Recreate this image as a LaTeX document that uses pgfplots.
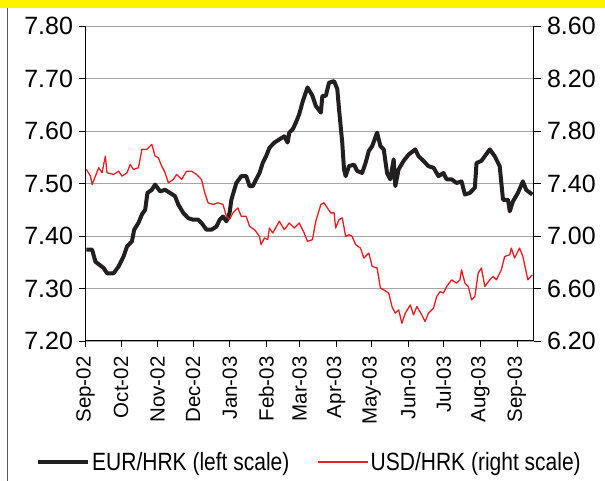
\documentclass[border=0pt]{standalone}
\usepackage{pgfplots}
\pgfplotsset{compat=1.18}
\usepackage{pgfplotstable}
\usepackage{fontspec}
\setmainfont{Liberation Sans}
\newfontfamily\legendfont[FakeStretch=0.84]{Liberation Sans}

\definecolor{eurblack}{HTML}{231F20}
\definecolor{usdred}{HTML}{ED1C24}
\definecolor{gridgray}{HTML}{A6A6A6}
\definecolor{banner}{HTML}{FFF200}

% day 0 = 1 Sep 2002
\pgfplotstableread{
day val
0.8 7.374
5.6 7.374
8.4 7.351
15.4 7.339
18.2 7.329
23.8 7.329
28.0 7.342
32.2 7.361
35.1 7.380
39.3 7.390
41.2 7.412
44.8 7.425
47.7 7.441
50.5 7.450
52.4 7.482
56.1 7.488
58.9 7.498
63.1 7.485
67.3 7.488
71.5 7.482
75.7 7.476
78.5 7.460
82.7 7.444
86.9 7.434
91.1 7.431
95.3 7.431
98.1 7.425
102.3 7.412
106.6 7.412
110.8 7.418
113.5 7.431
116.3 7.437
119.2 7.428
121.9 7.444
123.4 7.469
127.6 7.501
131.8 7.514
136.0 7.514
138.8 7.495
141.5 7.495
144.4 7.508
147.2 7.520
149.9 7.539
152.8 7.552
155.6 7.568
159.8 7.578
164.0 7.584
168.2 7.590
171.0 7.578
172.4 7.597
175.2 7.603
178.0 7.616
180.8 7.632
183.6 7.655
187.8 7.683
192.0 7.667
194.8 7.648
199.1 7.635
200.4 7.667
203.3 7.667
206.0 7.692
210.3 7.695
213.0 7.680
214.5 7.641
217.2 7.578
218.7 7.527
220.1 7.514
222.9 7.533
227.1 7.536
229.8 7.524
234.0 7.520
236.9 7.539
239.7 7.562
242.5 7.571
246.7 7.597
249.5 7.571
252.3 7.565
255.1 7.520
257.9 7.508
260.7 7.546
262.1 7.495
264.9 7.527
269.1 7.543
273.3 7.555
279.0 7.565
281.7 7.552
285.9 7.543
290.1 7.533
294.4 7.530
298.6 7.514
302.8 7.520
305.5 7.508
309.7 7.508
313.9 7.501
318.1 7.504
321.0 7.479
325.2 7.482
329.4 7.492
330.8 7.539
334.9 7.543
337.8 7.552
342.0 7.565
346.2 7.552
350.4 7.533
351.8 7.501
353.2 7.469
357.4 7.469
358.9 7.447
361.6 7.466
365.8 7.482
370.0 7.504
372.8 7.488
378.0 7.479
}\eurhrk

\pgfplotstableread{
day val
0.8 7.507
4.2 7.456
5.6 7.392
8.4 7.456
11.2 7.520
14.0 7.482
16.8 7.609
18.2 7.482
23.8 7.469
28.0 7.494
30.9 7.456
35.1 7.482
37.8 7.545
40.6 7.507
44.8 7.520
47.7 7.660
51.9 7.660
56.1 7.698
58.9 7.609
61.6 7.596
64.5 7.532
67.3 7.482
70.1 7.405
74.3 7.431
77.1 7.469
81.3 7.431
85.5 7.494
89.7 7.494
93.9 7.469
98.1 7.431
100.9 7.329
103.7 7.253
107.9 7.240
112.1 7.253
116.3 7.240
119.2 7.150
121.9 7.125
124.7 7.176
128.9 7.214
131.7 7.150
135.9 7.150
138.8 7.074
143.0 7.048
147.2 6.997
148.5 6.934
151.4 6.985
154.2 6.972
155.6 7.061
158.4 7.023
164.0 7.112
168.2 7.048
172.4 7.099
176.6 7.061
180.8 7.099
185.0 7.023
187.8 6.959
192.0 6.972
194.8 7.112
199.1 7.240
201.8 7.253
204.6 7.214
207.5 7.176
210.3 7.176
211.6 7.061
214.5 7.125
217.2 7.138
220.1 6.997
222.9 7.010
225.6 6.997
228.5 6.934
232.6 6.908
235.5 6.832
239.7 6.870
242.5 6.768
246.7 6.756
249.5 6.603
252.3 6.590
256.5 6.565
259.3 6.462
262.1 6.412
264.9 6.437
267.7 6.335
270.5 6.412
274.8 6.475
277.5 6.399
280.3 6.462
284.5 6.399
287.3 6.348
290.1 6.412
294.4 6.450
297.1 6.539
300.0 6.577
302.8 6.565
305.5 6.615
309.7 6.666
313.9 6.641
316.8 6.666
318.1 6.743
321.0 6.641
323.8 6.615
326.6 6.513
329.4 6.539
332.2 6.717
334.9 6.756
337.8 6.615
342.0 6.666
344.8 6.692
347.6 6.666
351.8 6.743
354.6 6.844
358.9 6.857
360.2 6.908
363.0 6.832
367.2 6.908
370.0 6.844
374.2 6.666
378.0 6.704
}\usdhrk

\begin{document}
\begin{tikzpicture}
\path[use as bounding box] (-85.5pt,-140pt) rectangle (519.5pt,341pt);
\fill[banner] (-85.5pt,333pt) rectangle (519.5pt,341pt);
\draw[black!65, line width=1.3pt] (-78pt,-140pt) -- (-78pt,333pt);

\pgfplotsset{
  every axis/.append style={
    scale only axis, width=448pt, height=315pt,
    xmin=0, xmax=379,
    tick align=outside,
    /pgf/number format/assume math mode=true,
    /pgf/number format/.cd, fixed, fixed zerofill, precision=2,
  },
}

\begin{axis}[
  axis x line*=bottom, axis y line*=left,
  axis line style={black, line width=1pt},
  ymin=7.2, ymax=7.8,
  ytick={7.2,7.3,7.4,7.5,7.6,7.7,7.8},
  ymajorgrids=true,
  grid style={gridgray, line width=0.9pt},
  major tick length=6pt,
  tick style={black, line width=0.9pt},
  yticklabel style={font=\fontsize{25}{25}\selectfont, anchor=east, xshift=-3pt},
  xtick={0,30,61,91,122,153,181,212,242,273,303,334,365},
  xticklabels={Sep-02,Oct-02,Nov-02,Dec-02,Jan-03,Feb-03,Mar-03,Apr-03,May-03,Jun-03,Jul-03,Aug-03,Sep-03},
  xticklabel style={font=\fontsize{20.5}{20.5}\selectfont, rotate=90, anchor=east, xshift=-6pt},
  legend style={at={(0.5,-0.384)}, anchor=center, draw=none, fill=none,
    font=\legendfont\fontsize{25}{25}\selectfont, column sep=0pt,
    /tikz/every even column/.append style={column sep=26pt}},
  legend columns=2,
  legend image code/.code={\draw[#1] (0pt,0pt) -- (50pt,0pt);},
]
\addplot[eurblack, line width=4pt, line join=round] table[x=day, y=val] {\eurhrk};
\addlegendentry{EUR/HRK (left scale)}
\addlegendimage{usdred, line width=1.3pt}
\addlegendentry{USD/HRK (right scale)}
\end{axis}

\begin{axis}[
  axis x line=none, axis y line*=right,
  axis line style={black, line width=1pt},
  ymin=6.2, ymax=8.6,
  ytick={6.2,6.6,7.0,7.4,7.8,8.2,8.6},
  major tick length=7pt,
  tick style={black, line width=0.9pt},
  yticklabel style={font=\fontsize{25}{25}\selectfont, anchor=west, xshift=3pt},
]
\addplot[usdred, line width=1.3pt, line join=round] table[x=day, y=val] {\usdhrk};
\end{axis}
\end{tikzpicture}
\end{document}
